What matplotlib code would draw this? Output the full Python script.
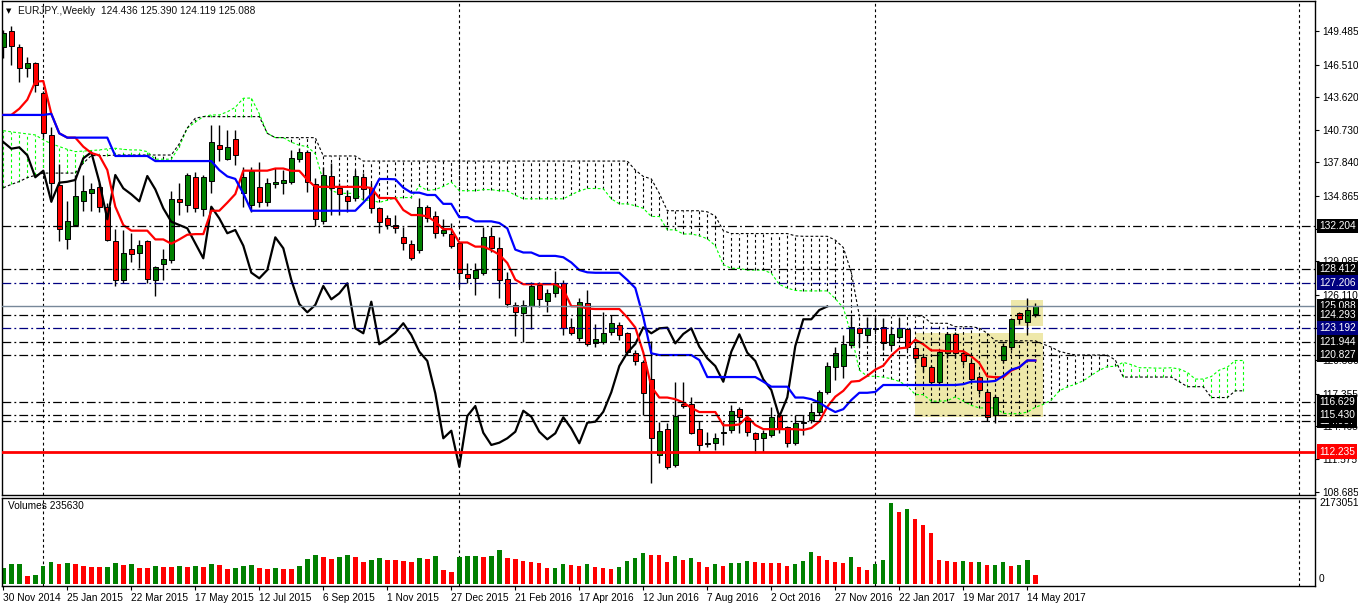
import numpy as np
import pandas as pd
import matplotlib
matplotlib.use('Agg')
import matplotlib.pyplot as plt
import matplotlib.transforms as mtransforms

plt.rcParams['font.family'] = ['Liberation Sans', 'DejaVu Sans']

# EURJPY weekly candles, 30 Nov 2014 .. 21 May 2017
opens = [148.09, 149.49, 148.09, 146.18, 146.62, 144.02, 140.25, 135.82, 131.04, 132.33,
         134.45, 135.17, 135.70, 133.87, 130.91, 127.43, 130.20, 129.80, 130.86, 127.43,
         128.85, 129.20, 134.63, 134.05, 136.58, 133.75, 136.23, 139.41, 138.17, 139.89,
         135.11, 134.05, 135.64, 134.37, 135.93, 135.99, 136.13, 138.12, 138.74, 135.93,
         132.68, 136.64, 135.55, 134.87, 134.67, 136.53, 135.61, 133.78, 132.89, 132.27,
         131.26, 130.59, 130.09, 133.87, 133.10, 131.57, 131.48, 130.68, 127.93, 127.58,
         128.08, 131.35, 130.24, 127.49, 125.22, 124.48, 125.15, 126.99, 125.60, 126.31,
         127.19, 123.24, 122.26, 125.42, 121.88, 121.96, 122.85, 123.44, 122.71, 120.93,
         120.14, 118.63, 111.93, 114.21, 111.04, 116.42, 116.45, 114.21, 112.88, 112.97,
         113.85, 114.14, 116.03, 115.18, 113.90, 113.41, 113.67, 115.47, 114.38, 112.97,
         114.79, 115.03, 115.76, 117.54, 119.70, 119.81, 121.64, 123.15, 122.53, 123.07,
         123.24, 121.65, 122.41, 123.06, 121.38, 120.64, 119.75, 118.42, 120.94, 122.62,
         120.99, 120.10, 118.81, 117.54, 115.47, 120.34, 121.47, 124.48, 123.73, 124.436]
highs = [149.57, 149.93, 148.33, 147.21, 146.77, 144.20, 140.96, 137.70, 134.40, 136.70,
         136.70, 136.05, 136.05, 134.28, 131.92, 131.86, 131.57, 130.97, 130.97, 128.67,
         130.15, 135.29, 136.05, 136.88, 136.99, 136.70, 141.13, 141.13, 140.72, 140.72,
         137.46, 137.46, 137.85, 136.43, 137.38, 137.17, 138.95, 139.15, 138.95, 136.44,
         137.46, 137.77, 136.05, 135.40, 137.17, 136.93, 136.00, 133.87, 133.19, 133.19,
         132.15, 130.97, 134.67, 134.07, 133.54, 132.81, 132.45, 130.82, 128.91, 128.96,
         132.15, 132.15, 131.26, 128.17, 125.51, 125.66, 127.28, 127.28, 126.61, 128.25,
         127.43, 124.04, 125.80, 126.54, 123.53, 124.62, 124.33, 123.73, 122.80, 121.23,
         120.34, 122.05, 114.88, 114.73, 118.42, 118.42, 117.09, 114.97, 113.99, 113.90,
         114.88, 116.36, 116.21, 115.47, 113.99, 114.15, 116.21, 115.62, 114.50, 115.47,
         115.47, 116.56, 117.69, 120.19, 121.52, 122.56, 124.18, 123.29, 124.18, 124.18,
         124.04, 123.29, 124.04, 123.15, 121.67, 120.87, 119.90, 121.23, 122.85, 122.85,
         121.23, 120.34, 119.00, 117.69, 117.24, 121.82, 124.04, 124.62, 125.81, 125.390]
lows = [147.09, 146.47, 144.99, 145.44, 144.11, 140.12, 134.37, 130.91, 130.15, 132.20,
        133.57, 133.57, 133.48, 130.91, 126.90, 127.14, 129.05, 128.47, 127.19, 126.00,
        127.43, 128.96, 133.16, 133.48, 133.48, 133.10, 135.11, 137.97, 138.06, 137.59,
        133.92, 133.48, 133.92, 134.00, 135.55, 135.02, 135.90, 137.90, 135.25, 132.21,
        132.40, 133.19, 133.19, 133.48, 134.40, 134.67, 133.34, 131.62, 131.95, 131.57,
        130.09, 129.20, 129.79, 132.60, 131.12, 131.30, 130.24, 126.84, 127.14, 126.10,
        127.90, 129.90, 125.81, 125.06, 122.47, 121.96, 123.06, 125.06, 124.62, 125.90,
        122.56, 122.55, 122.00, 121.55, 121.47, 121.80, 122.60, 122.12, 120.80, 119.90,
        115.47, 109.42, 111.19, 110.70, 110.85, 116.10, 113.75, 112.22, 112.66, 112.37,
        112.82, 113.90, 113.85, 113.60, 112.08, 112.22, 113.50, 113.90, 112.67, 112.80,
        113.70, 114.80, 115.50, 117.30, 118.57, 118.72, 121.40, 121.52, 121.96, 122.90,
        121.23, 121.30, 122.20, 121.20, 120.10, 119.30, 118.20, 118.20, 120.50, 120.50,
        119.90, 118.20, 117.30, 114.92, 114.79, 120.10, 121.20, 123.50, 122.56, 124.119]
closes = [149.28, 148.16, 146.18, 146.62, 144.70, 140.42, 135.99, 131.92, 132.63, 134.87,
          135.29, 135.47, 133.92, 130.97, 127.43, 129.85, 129.73, 130.50, 127.49, 128.55,
          129.32, 134.58, 134.34, 136.70, 133.81, 136.53, 139.65, 139.06, 139.18, 138.48,
          136.53, 137.11, 134.37, 136.05, 136.13, 136.29, 138.21, 138.74, 136.13, 132.81,
          136.73, 135.55, 135.02, 134.40, 136.64, 135.46, 133.78, 132.59, 132.30, 132.01,
          130.68, 129.35, 133.92, 132.89, 131.57, 131.86, 130.47, 128.08, 127.58, 128.32,
          131.21, 130.24, 127.43, 125.30, 124.57, 125.22, 126.90, 125.72, 126.25, 127.14,
          123.15, 122.71, 125.51, 121.74, 122.18, 122.76, 123.60, 122.56, 121.08, 120.26,
          117.39, 113.41, 114.08, 110.89, 115.38, 116.27, 113.90, 112.82, 113.02, 113.41,
          113.99, 115.85, 115.32, 113.99, 113.32, 113.85, 115.27, 114.28, 112.97, 114.79,
          114.88, 115.76, 117.49, 119.81, 120.99, 121.76, 123.24, 122.71, 123.15, 123.21,
          121.82, 122.65, 123.15, 121.52, 120.49, 119.81, 118.42, 121.08, 122.62, 120.99,
          120.26, 118.63, 117.69, 115.32, 117.04, 121.58, 123.95, 123.95, 124.77, 125.088]
# tick volume, thousands
volumes_k = [421, 513, 522, 210, 236, 463, 564, 513, 539, 513, 463, 438, 429, 438, 539, 488,
             513, 412, 404, 463, 438, 429, 463, 438, 463, 454, 513, 488, 387, 412, 463, 488,
             412, 387, 412, 387, 379, 463, 640, 741, 690, 640, 690, 741, 690, 564, 614, 665,
             614, 606, 589, 564, 665, 640, 715, 362, 311, 690, 715, 724, 690, 715, 867, 665,
             640, 589, 564, 539, 412, 421, 513, 488, 463, 513, 438, 412, 387, 438, 589, 665,
             791, 741, 732, 564, 715, 614, 665, 564, 438, 513, 463, 539, 547, 589, 564, 555,
             547, 539, 463, 513, 589, 816, 715, 614, 564, 539, 690, 438, 362, 513, 614, 2062,
             1834, 1902, 1649, 1498, 1296, 614, 589, 564, 589, 564, 572, 488, 496, 564, 463, 488,
             614, 235.63]

# indicator values before enough history is on the chart
tenkan_head = [142.05, 142.05, 142.6, 143.4, 145.0, 145.05]
kijun_head = [142.05, 142.05, 142.05, 142.05, 142.05, 142.05]
span_a_left = [140.66, 140.55, 140.46, 140.37, 140.28, 139.84, 139.5, 139.25, 139.0, 138.8,
               138.85, 138.9, 138.95, 139.05, 139.1, 139.0, 138.95, 138.95, 138.8, 138.13,
               138.13, 138.13, 139.25, 140.87, 141.43, 141.9]
span_b_left = [135.6, 135.9, 136.15, 136.5, 136.7, 136.9, 136.9, 136.9, 136.9, 136.9,
               137.78, 138.45, 138.45, 138.45, 138.5, 138.5, 138.5, 138.5, 138.5, 138.5,
               138.5, 138.5, 139.5, 140.9, 141.76, 141.9, 141.9, 141.9, 141.9, 141.9,
               141.9, 141.9, 141.9]

# horizontal objects
level_prices = [132.204, 128.412, 127.206, 124.293, 123.192, 121.944, 120.827,
                116.629, 114.937, 115.430, 112.235]
level_kinds = ['black', 'black', 'navy', 'black', 'navy', 'black', 'black',
               'black', 'black', 'black', 'red']
# shaded zones: (first bar, last bar, low, high)
zones = [(113.95, 129.9, 115.32, 122.71), (125.9, 129.9, 123.36, 125.66)]

ytick_values = [149.485, 146.510, 143.620, 140.730, 137.840, 134.865, 131.975, 129.085,
                126.110, 123.220, 120.330, 117.355, 114.465, 111.575, 108.685]
xtick_bars = list(range(0, 129, 8))
xtick_labels = ['30 Nov 2014', '25 Jan 2015', '22 Mar 2015', '17 May 2015', '12 Jul 2015',
                '6 Sep 2015', '1 Nov 2015', '27 Dec 2015', '21 Feb 2016', '17 Apr 2016',
                '12 Jun 2016', '7 Aug 2016', '2 Oct 2016', '27 Nov 2016', '22 Jan 2017',
                '19 Mar 2017', '14 May 2017']
grid_bars = [5, 57, 109, 162]
vol_scale_max = 2173051

# ---- Ichimoku ----
n = len(closes)
x = np.arange(n)
h = pd.Series(highs)
l = pd.Series(lows)
tenkan = ((h.rolling(9, min_periods=1).max() + l.rolling(9, min_periods=1).min()) / 2).values
kijun = ((h.rolling(26, min_periods=1).max() + l.rolling(26, min_periods=1).min()) / 2).values
tenkan[:len(tenkan_head)] = tenkan_head
kijun[:len(kijun_head)] = kijun_head
span_a_src = (tenkan + kijun) / 2
span_b_src = ((h.rolling(52, min_periods=1).max() + l.rolling(52, min_periods=1).min()) / 2).values
span_a = np.r_[span_a_left, span_a_src]
span_b = np.r_[span_b_left, span_b_src[len(span_b_left) - 26:]]
cx = np.arange(len(span_a))

# ---- figure layout (pixel based) ----
W, H = 1358, 606
fig = plt.figure(figsize=(W / 100, H / 100), dpi=100)
fig.patch.set_facecolor('white')

def px_axes(left, top, right, bottom):
    return fig.add_axes([left / W, 1 - bottom / H, (right - left) / W, (bottom - top) / H])

ax = px_axes(1.5, 1, 1315, 495)
axv = px_axes(1.5, 497.5, 1315, 586)

xl = ((1.5 - 3.3) / 8, (1315 - 3.3) / 8)
for a in (ax, axv):
    a.set_xlim(*xl)
    for s in a.spines.values():
        s.set_color('black')
        s.set_linewidth(1)
    for gb in grid_bars:
        a.axvline(gb, color='black', lw=0.8, ls=(0, (2.5, 2.5)), zorder=0.8)

ax.set_ylim(108.387, 152.142)

GREEN = '#008000'
RED = '#ff0000'
BEIGE = '#eee8aa'

# zones
for x0, x1, lo, hi in zones:
    ax.fill_between([x0, x1], lo, hi, color=BEIGE, lw=0, zorder=0.5)

# kumo hatching and spans
up = span_a >= span_b
ax.vlines(cx[up], span_b[up], span_a[up], colors='#00ff00', lw=0.8,
          linestyles=(0, (2.5, 2.5)), zorder=1.5)
ax.vlines(cx[~up], span_a[~up], span_b[~up], colors='black', lw=0.8,
          linestyles=(0, (2.5, 2.5)), zorder=1.5)
ax.plot(cx, span_a, color='#00ff00', lw=0.8, ls=(0, (2.5, 2)), zorder=1.6)
ax.plot(cx, span_b, color='black', lw=0.8, ls=(0, (2.5, 2)), zorder=1.6)

# candles
o = np.array(opens)
c = np.array(closes)
ax.vlines(x, lows, highs, color='black', lw=1, zorder=2)
body_lo = np.minimum(o, c)
body_h = np.maximum(np.abs(c - o), 0.06)
cols = [GREEN if cc >= oo else RED for oo, cc in zip(o, c)]
ax.bar(x, body_h, bottom=body_lo, width=0.68, color=cols, edgecolor='black', lw=0.7, zorder=2.1)

# lines: chikou, tenkan, kijun (kijun drawn on top)
ax.plot(np.arange(n - 26), c[26:], color='black', lw=1.6, zorder=2.5)
ax.plot(x, tenkan, color=RED, lw=1.6, zorder=2.6)
ax.plot(x, kijun, color='#0000ff', lw=1.6, zorder=2.7)

# horizontal levels
style = {'black': ('black', 'black'), 'navy': ('#000080', '#000080'), 'red': (RED, RED)}
lab_tr = mtransforms.blended_transform_factory(ax.transAxes, ax.transData)
lab_x = 1 + 4 / 1313.5
box = dict(boxstyle='square,pad=0.22', ec='none')

bid = closes[-1]
ax.axhline(bid, color='#778899', lw=1, zorder=3)
ax.text(lab_x, bid, f'{bid:.3f}', transform=lab_tr, color='white', fontsize=7.3, va='center',
        ha='left', clip_on=False, zorder=10, bbox=dict(box, fc='black'))

for p, k in zip(level_prices, level_kinds):
    lc, bc = style[k]
    if k == 'red':
        ax.axhline(p, color=lc, lw=2, zorder=3)
    else:
        ax.axhline(p, color=lc, lw=0.9, ls=(0, (7, 2.5, 1.5, 2.5)), zorder=3)
    ax.text(lab_x, p, f'{p:.3f}', transform=lab_tr, color='white', fontsize=7.3, va='center',
            ha='left', clip_on=False, zorder=10, bbox=dict(box, fc=bc))

ax.yaxis.tick_right()
ax.set_yticks(ytick_values)
ax.set_yticklabels([f'{v:.3f}' for v in ytick_values])
ax.tick_params(axis='y', length=3, width=0.8, pad=2, labelsize=7.3)
ax.set_xticks([])

# header
hdr = f'{opens[-1]:.3f} {highs[-1]:.3f} {lows[-1]:.3f} {closes[-1]:.3f}'
fig.text(6 / W, 1 - 11 / H, '\u25bc', fontsize=5, va='center', family=['DejaVu Sans'])
fig.text(18 / W, 1 - 11 / H, 'EURJPY.,Weekly  ' + hdr, fontsize=7.3, va='center', color='#111111')

# ---- volumes ----
vk = np.array(volumes_k)
vcols = [GREEN] + [GREEN if vk[i] > vk[i - 1] else RED for i in range(1, n)]
axv.bar(x, vk, width=0.55, color=vcols, lw=0, zorder=2)
axv.set_ylim(-38, 2196)
axv.set_yticks([])
axv.set_xticks(xtick_bars)
axv.set_xticklabels(xtick_labels, ha='left')
axv.tick_params(axis='x', length=3, width=0.8, pad=2, labelsize=7.3)
vtr = mtransforms.blended_transform_factory(axv.transAxes, axv.transData)
axv.text(lab_x, vol_scale_max / 1000, str(vol_scale_max), transform=vtr, fontsize=7.3,
         va='top', ha='left', clip_on=False)
axv.text(lab_x, 0, '0', transform=vtr, fontsize=7.3, va='bottom', ha='left', clip_on=False)
axv.text(7 / 1313.5, 0.9, f'Volumes {round(vk[-1] * 1000)}', transform=axv.transAxes,
         fontsize=7.3, va='center', ha='left')

fig.savefig('out.png', dpi=100)
